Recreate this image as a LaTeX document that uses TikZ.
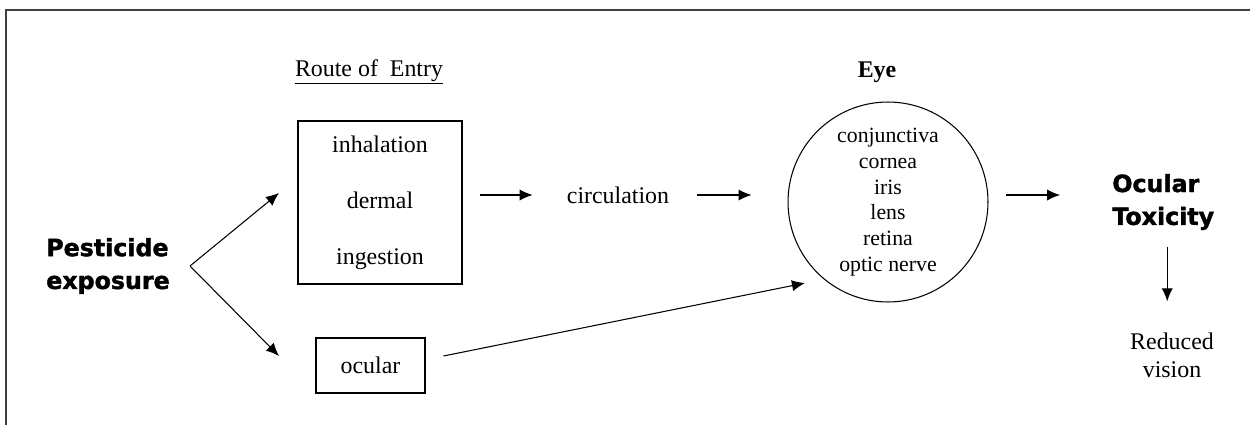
\documentclass[tikz,border=0pt]{standalone}
\usepackage{fontspec}
\setmainfont{Liberation Serif}
\newfontfamily\heavyfont{DejaVu Sans}[BoldFeatures={FakeBold=1.6}]
\usepackage{tikz}
\usetikzlibrary{arrows.meta,calc}
\tikzstyle{text_plain} = [inner sep=0pt, align=center, font=\fontsize{13.6}{15.9}\selectfont]
\tikzstyle{text_heavy} = [inner sep=0pt, align=left, font=\heavyfont\bfseries\fontsize{13.5}{18.7}\selectfont]
\tikzstyle{node_box} = [rectangle, draw, line width=0.6pt, inner sep=0pt, align=center, font=\fontsize{13.6}{16.3}\selectfont]
\tikzstyle{node_eye} = [circle, draw, line width=0.6pt, inner sep=0pt, minimum size=4cm, align=center, font=\fontsize{12.4}{14.6}\selectfont]
\tikzstyle{edge_arrow} = [-{Latex[length=7.4pt,width=6.4pt]}, line width=0.6pt]

\begin{document}
\begin{tikzpicture}[x=0.02cm, y=-0.02cm]
		\useasboundingbox (0,0) rectangle (1250,425);
		\draw[line width=0.9pt, black!75] (6,425) -- (6,10) -- (1250,10);
		
		\node (P) at (108,266) [text_heavy] {Pesticide\\exposure};
		\node (H) at (369,72) [text_plain] {\underline{Route of~ Entry}};
		\node (R) at (380,202.5) [node_box, minimum width=3.28cm, minimum height=3.26cm] {inhalation\\[15.5pt]dermal\\[15.5pt]ingestion};
		\node (O) at (370.5,365.5) [node_box, minimum width=2.18cm, minimum height=1.1cm] {ocular};
		\node (C) at (618,195) [text_plain] {circulation};
		\node (Y) at (877,72) [text_plain, font=\bfseries\fontsize{13.6}{15.9}\selectfont] {Eye};
		\node (E) at (888,202) [node_eye] {conjunctiva\\cornea\\iris\\lens\\retina\\optic nerve};
		\node (T) at (1112,202) [text_heavy, anchor=west] {Ocular\\Toxicity};
		\node (V) at (1172,355) [text_plain] {Reduced\\vision};
		
		\coordinate (F) at (190,266);
		\coordinate (Fu) at (279,193);
		\coordinate (Fd) at (279,356);
		\draw[edge_arrow] (F) -- (Fu);
		\draw[edge_arrow] (F) -- (Fd);
		\draw[edge_arrow] ($(R.east |- C)+(17,0)$) -- ($(C.west)+(-34,0)$);
		\draw[edge_arrow] ($(C.east)+(28,0)$) -- ($(E.west |- C)+(-36,0)$);
		\draw[edge_arrow] ($(E.east |- C)+(17,0)$) -- ($(T.west |- C)+(-52,0)$);
		\draw[edge_arrow, shorten <=0.34cm, shorten >=0.62cm] ($(T.south)+(4,0)$) -- ($(V.north -| T.south)+(4,0)$);
		\draw[edge_arrow] ($(O.east)+(18,-9.5)$) -- ($(E.225)+(-12,10)$);
\end{tikzpicture}
\end{document}
